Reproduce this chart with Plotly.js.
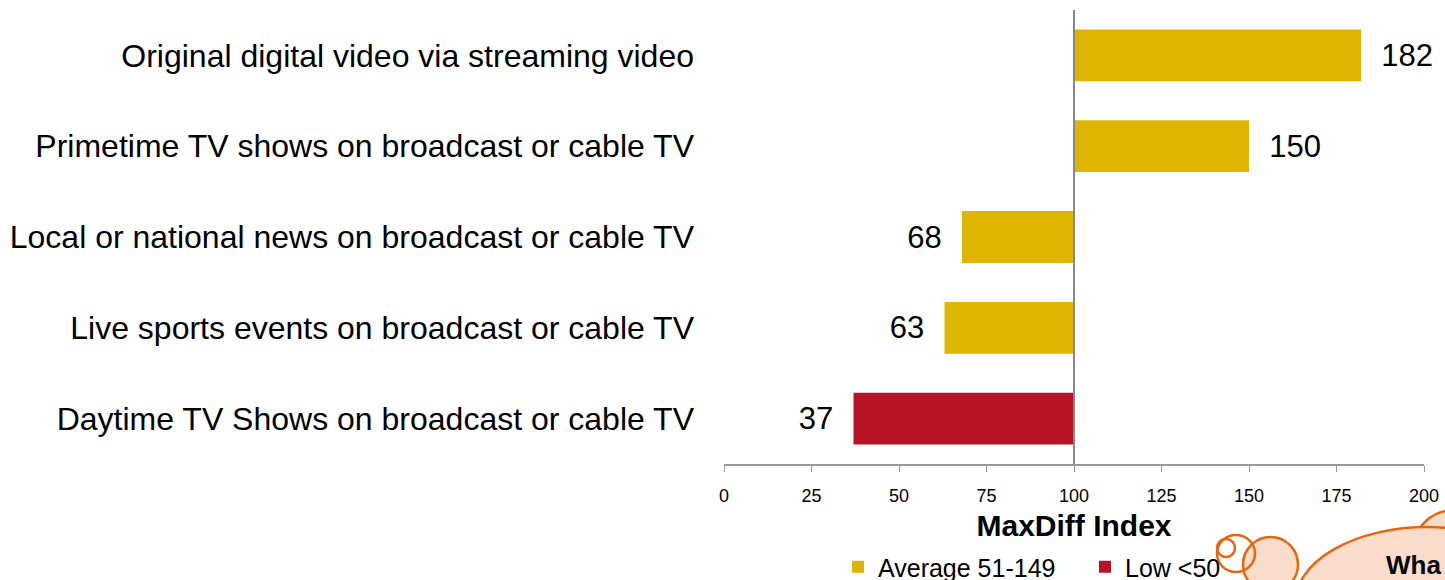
<!DOCTYPE html>
<html>
<head>
<meta charset="utf-8">
<script src="https://cdn.plot.ly/plotly-3.0.1.min.js"></script>
<style>
  body { margin: 0; background: #fff; }
  #myDiv { width: 1445px; height: 580px; }
</style>
</head>
<body>
<div id="myDiv"></div>
<script>
// categories top to bottom
let categories = [
    "Original digital video via streaming video",
    "Primetime TV shows on broadcast or cable TV",
    "Local or national news on broadcast or cable TV",
    "Live sports events on broadcast or cable TV",
    "Daytime TV Shows on broadcast or cable TV"
];
let indexValues = [182, 150, 68, 63, 37];
let groups = ["Average 51-149", "Average 51-149", "Average 51-149", "Average 51-149", "Low <50"];
let groupNames = ["Average 51-149", "Low <50"];
let groupColors = ["#DEB500", "#B81324"];
let tickVals = [0, 25, 50, 75, 100, 125, 150, 175, 200];
let baseValue = 100;

// page pixels -> paper coords (plot area 724..1424 x, 10..464 y)
function px(x) { return (x - 724) / 700; }
function py(y) { return (464 - y) / 454; }

let pad = '\u00a0\u00a0';

let traces = groupNames.map(function (g, gi) {
    let ys = [], xs = [], txt = [];
    for (let i = 0; i < categories.length; i++) {
        if (groups[i] === g) {
            ys.push(categories[i]);
            xs.push(indexValues[i] - baseValue);
            txt.push(indexValues[i] >= baseValue ? pad + indexValues[i] : indexValues[i] + pad);
        }
    }
    return {
        type: 'bar',
        orientation: 'h',
        name: g,
        y: ys,
        x: xs,
        base: baseValue,
        text: txt,
        textposition: 'outside',
        textfont: {family: 'Liberation Sans, Arial', size: 31, color: '#000'},
        cliponaxis: false,
        marker: {color: groupColors[gi]},
        width: 0.57,
        hoverinfo: 'skip'
    };
});

let layout = {
    width: 1445,
    height: 580,
    margin: {l: 724, r: 21, t: 10, b: 116, autoexpand: false},
    paper_bgcolor: '#fff',
    plot_bgcolor: '#fff',
    barmode: 'overlay',
    font: {family: 'Liberation Sans, Arial', color: '#000'},
    xaxis: {
        range: [0, 200],
        automargin: false,
        tickvals: tickVals,
        ticktext: tickVals.map(String),
        ticks: 'outside',
        ticklen: 6,
        tickcolor: '#999',
        showline: true,
        linecolor: '#999',
        linewidth: 2,
        showgrid: false,
        zeroline: false,
        ticklabelstandoff: 8,
        tickfont: {family: 'Liberation Sans, Arial', size: 18, color: '#000'},
        title: {
            text: '<b>MaxDiff Index</b>',
            font: {family: 'Liberation Sans, Arial', size: 30, color: '#000'},
            standoff: 10
        }
    },
    yaxis: {
        type: 'category',
        automargin: false,
        categoryorder: 'array',
        categoryarray: categories,
        autorange: 'reversed',
        showgrid: false,
        zeroline: false,
        showline: false,
        ticks: '',
        ticklabelstandoff: 29,
        tickfont: {family: 'Liberation Sans, Arial', size: 32, color: '#000'}
    },
    showlegend: true,
    legend: {
        orientation: 'h',
        x: px(838),
        xanchor: 'left',
        y: py(567),
        yanchor: 'middle',
        font: {family: 'Liberation Sans, Arial', size: 25, color: '#000'},
        itemwidth: 30,
        entrywidth: 202,
        entrywidthmode: 'pixels',
        tracegroupgap: 0,
        bgcolor: 'rgba(0,0,0,0)'
    },
    shapes: [
        // vertical reference line at 100
        {type: 'line', xref: 'x', yref: 'paper', x0: 100, x1: 100, y0: 0, y1: 1, line: {color: '#888', width: 2}, layer: 'above'},
        // decorative thought cloud
        {type: 'circle', xref: 'paper', yref: 'paper', x0: px(1455 - 40), x1: px(1455 + 40), y0: py(545 + 35), y1: py(545 - 35), line: {color: '#E8650F', width: 2.5}, fillcolor: '#FADCCB', layer: 'above'},
        {type: 'circle', xref: 'paper', yref: 'paper', x0: px(1295), x1: px(1560), y0: py(680), y1: py(527), line: {color: '#E8650F', width: 2.5}, fillcolor: '#FADCCB', layer: 'above'},
        {type: 'circle', xref: 'paper', yref: 'paper', x0: px(1243), x1: px(1298), y0: py(592), y1: py(537), line: {color: '#E8650F', width: 2.5}, fillcolor: '#FADCCB', layer: 'above'},
        {type: 'circle', xref: 'paper', yref: 'paper', x0: px(1217), x1: px(1255), y0: py(572), y1: py(535), line: {color: '#E8650F', width: 2.5}, fillcolor: 'rgba(0,0,0,0)', layer: 'above'},
        {type: 'circle', xref: 'paper', yref: 'paper', x0: px(1217), x1: px(1235), y0: py(557), y1: py(539), line: {color: '#E8650F', width: 2.5}, fillcolor: 'rgba(0,0,0,0)', layer: 'above'}
    ],
    annotations: [
        {xref: 'paper', yref: 'paper', x: px(1384), y: py(565), xanchor: 'left', yanchor: 'middle', text: '<b>Wha</b>', showarrow: false, font: {family: 'Liberation Sans, Arial', size: 26, color: '#000'}}
    ]
};

Plotly.newPlot("myDiv", traces, layout, {displayModeBar: false, staticPlot: true});
</script>
</body>
</html>
